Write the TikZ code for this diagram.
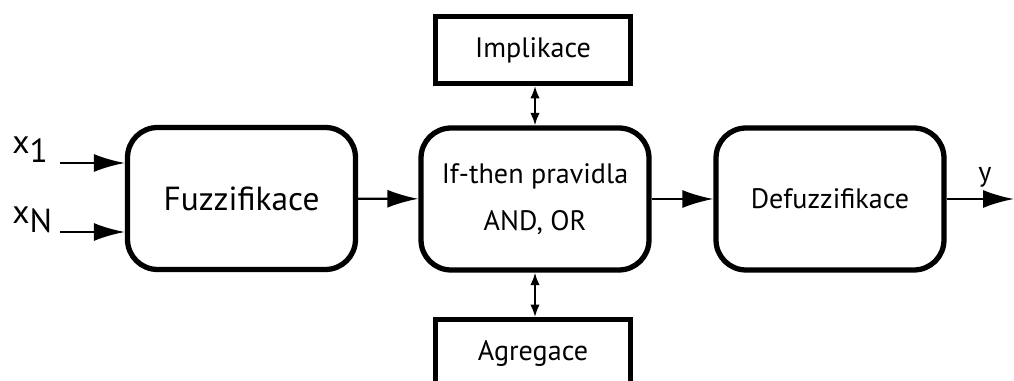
\documentclass[tikz,border=0pt]{standalone}
\usepackage{fontspec}
\setmainfont{PT Sans}
\usetikzlibrary{arrows.meta}

\begin{document}
\begin{tikzpicture}[x=0.02cm, y=-0.02cm,
    block/.style={draw, line width=3pt, rounded corners=0.6cm, minimum width=4.56cm, minimum height=2.84cm, align=center, font=\fontsize{16}{27}\selectfont},
    tabbox/.style={draw, line width=2.8pt, minimum width=3.9cm, minimum height=1.34cm, font=\fontsize{16}{19}\selectfont},
    flow/.style={line width=1.3pt, -{Latex[length=0.62cm, width=0.36cm]}},
    link/.style={line width=1.2pt, {Latex[length=0.25cm, width=0.19cm]}-{Latex[length=0.25cm, width=0.19cm]}},
    lbl/.style={inner sep=0pt, font=\fontsize{19}{22}\selectfont}]

    \useasboundingbox (0, 0) rectangle (1014, 381);

    \node[block, font=\fontsize{19}{22}\selectfont] (fuzz) at (241.5, 198.5) {Fuzzifikace};
    \node[block] (rules) at (535, 199) {If-then pravidla\\AND, OR};
    \node[block] (defuzz) at (830, 199) {Defuzzifikace};

    \node[tabbox] (impl) at (533, 50) {Implikace};
    \node[tabbox] (agr) at (533, 353) {Agregace};

    \coordinate (in1) at (60, 163);
    \coordinate (inN) at (60, 232);
    \coordinate (out) at (1014, 199);

    \node[lbl, anchor=south west] (x1) at (12, 163) {x\raisebox{-5pt}{1}};
    \node[lbl, anchor=south west] (xN) at (12, 233) {x\raisebox{-5pt}{N}};
    \node[lbl, anchor=base, font=\fontsize{16}{19}\selectfont] (y) at (985, 182) {y};

    \draw[flow] (in1) -- (in1 -| fuzz.west);
    \draw[flow] (inN) -- (inN -| fuzz.west);
    \draw[flow] (fuzz) -- (rules);
    \draw[flow] (rules) -- (defuzz);
    \draw[flow] (defuzz) -- (out);

    \draw[link] (impl.south -| rules.north) -- (rules.north);
    \draw[link] (rules.south) -- (agr.north -| rules.south);

\end{tikzpicture}
\end{document}
